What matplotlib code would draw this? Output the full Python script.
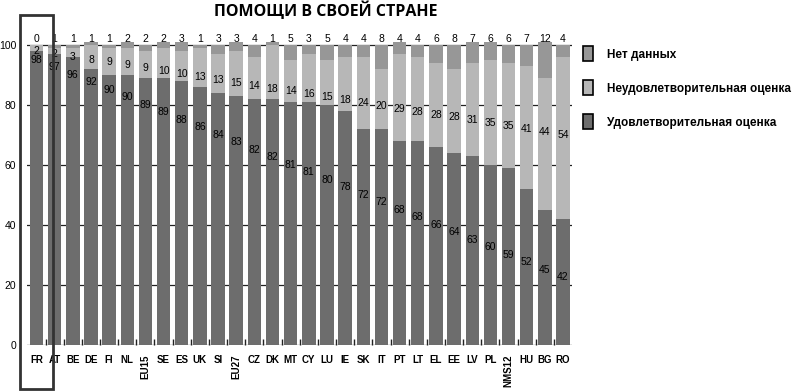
import numpy as np
import matplotlib
matplotlib.use('Agg')
import matplotlib.pyplot as plt
from matplotlib.patches import Patch, Rectangle

plt.rcParams['font.family'] = ['Liberation Sans', 'DejaVu Sans']

countries = ['FR', 'AT', 'BE', 'DE', 'FI', 'NL', 'EU15', 'SE', 'ES', 'UK', 'SI', 'EU27',
             'CZ', 'DK', 'MT', 'CY', 'LU', 'IE', 'SK', 'IT', 'PT', 'LT', 'EL', 'EE',
             'LV', 'PL', 'NMS12', 'HU', 'BG', 'RO']
good = [98, 97, 96, 92, 90, 90, 89, 89, 88, 86, 84, 83, 82, 82, 81, 81, 80, 78,
        72, 72, 68, 68, 66, 64, 63, 60, 59, 52, 45, 42]
bad = [2, 2, 3, 8, 9, 9, 9, 10, 10, 13, 13, 15, 14, 18, 14, 16, 15, 18,
       24, 20, 29, 28, 28, 28, 31, 35, 35, 41, 44, 54]
nodata = [0, 1, 1, 1, 1, 2, 2, 2, 3, 1, 3, 3, 4, 1, 5, 3, 5, 4,
          4, 8, 4, 4, 6, 8, 7, 6, 6, 7, 12, 4]
rotated = ['EU15', 'EU27', 'NMS12']

title = 'ПОМОЩИ В СВОЕЙ СТРАНЕ'
lab_nodata = 'Нет данных'
lab_bad = 'Неудовлетворительная оценка'
lab_good = 'Удовлетворительная оценка'

c_good = '#6d6d6d'
c_bad = '#b7b7b7'
c_nd = '#979797'

x = np.arange(len(countries))
good = np.array(good)
bad = np.array(bad)
nodata = np.array(nodata)

fig = plt.figure(figsize=(7.94, 3.91), dpi=100)
ax = fig.add_axes([0.0345, 0.118, 0.686, 0.844])

w = 0.74
ax.bar(x, good, w, color=c_good, zorder=2)
ax.bar(x, bad, w, bottom=good, color=c_bad, zorder=2)
ax.bar(x, nodata, w, bottom=good + bad, color=c_nd, zorder=2)

# labels in the original drift down diagonally across the bars
n = len(countries)
y_good = np.linspace(95, 22.5, n)
y_bad = np.linspace(98, 70, n)
for i in range(n):
    ax.text(x[i], y_good[i], str(good[i]), ha='center', va='center', fontsize=7.5, zorder=4)
    ax.text(x[i], y_bad[i], str(bad[i]), ha='center', va='center', fontsize=7.5, zorder=4)
    ax.text(x[i], 102.0, str(nodata[i]), ha='center', va='center', fontsize=7.5, zorder=4)

ax.set_xlim(-0.5, n - 0.5)
ax.set_ylim(0, 110)
ax.set_yticks([0, 20, 40, 60, 80, 100])
ax.yaxis.grid(True, color='#222222', lw=0.9)
ax.set_axisbelow(True)
for s in ax.spines.values():
    s.set_visible(False)

ax.set_xticks(x)
ax.set_xticklabels(countries, fontsize=7, fontweight='bold')
for lbl in ax.get_xticklabels():
    if lbl.get_text() in rotated:
        lbl.set_rotation(90)
ax.tick_params(axis='x', length=0, pad=7)
ax.set_xticks(x[:-1] + 0.5, minor=True)
ax.tick_params(axis='x', which='minor', length=4, direction='in', width=1, color='#222222')
ax.tick_params(axis='y', length=0, pad=8, labelsize=7.5)

# frame around France
ax.add_patch(Rectangle((-0.9, -14.7), 1.8, 124.5, fill=False, ec='#333333',
                       lw=2, clip_on=False, zorder=5))

fig.text(0.41, 0.972, title, ha='center', va='center', fontsize=11.5,
         fontweight='bold', family=['Open Sans', 'DejaVu Sans'])

handles = [Patch(fc=c_nd, ec='black', lw=1.2),
           Patch(fc=c_bad, ec='black', lw=1.2),
           Patch(fc=c_good, ec='black', lw=1.2)]
leg = fig.legend(handles, [lab_nodata, lab_bad, lab_good], loc='upper left',
                 bbox_to_anchor=(0.734, 0.882), frameon=False, borderpad=0,
                 borderaxespad=0, handlelength=0.85, handleheight=1.6,
                 labelspacing=1.6, handletextpad=1.2,
                 prop={'size': 8.5, 'weight': 'bold'})

fig.savefig('out.png', dpi=100)
